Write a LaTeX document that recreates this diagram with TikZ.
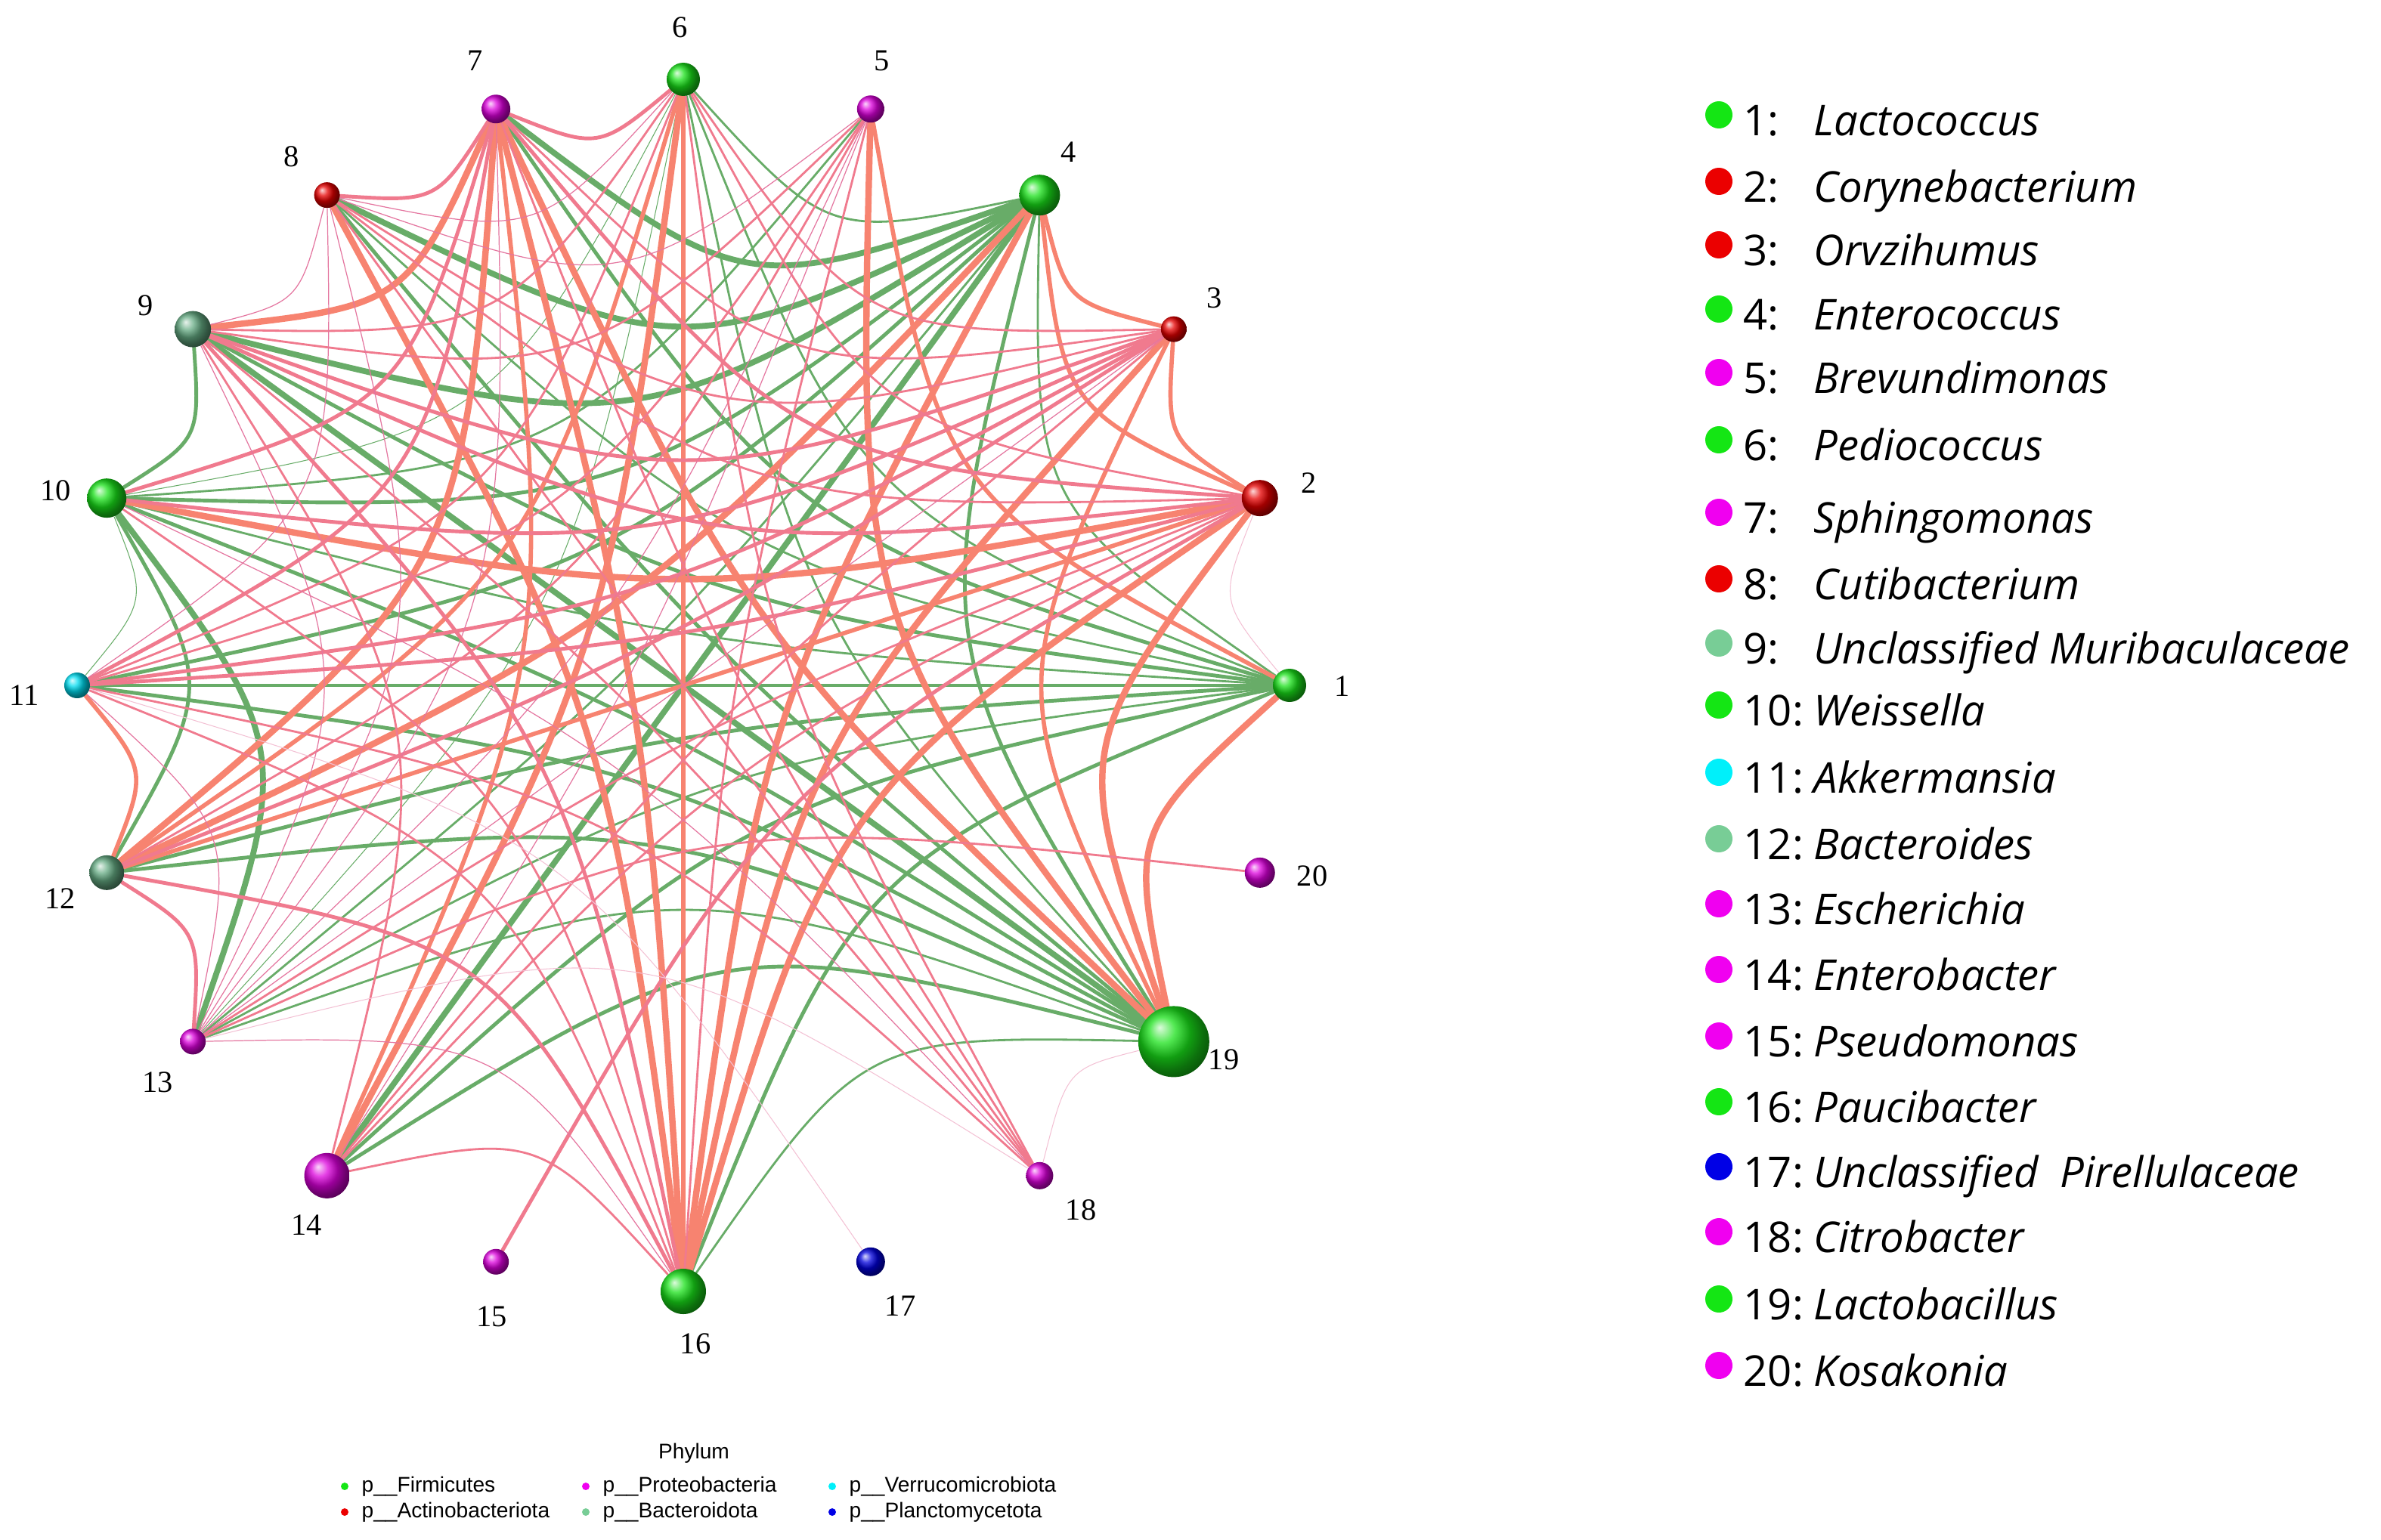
\documentclass[tikz,border=0pt]{standalone}
\usepackage{fontspec}
\setmainfont{Liberation Serif}
\newfontfamily\legfont{Open Sans}
\newfontfamily\phylfont{Liberation Sans}
\pgfdeclarelayer{edges}
\pgfsetlayers{edges,main}

\definecolor{egreen}{RGB}{104,172,104}
\definecolor{esalmon}{RGB}{247,131,112}
\definecolor{epink}{RGB}{240,122,142}
\definecolor{ethin}{RGB}{228,118,160}
\definecolor{bgreen}{RGB}{25,225,25}
\definecolor{bred}{RGB}{230,0,0}
\definecolor{bmag}{RGB}{220,0,220}
\definecolor{bsea}{RGB}{100,170,130}
\definecolor{bcyan}{RGB}{0,220,240}
\definecolor{bblue}{RGB}{0,0,220}
\definecolor{lgreen}{RGB}{20,230,20}
\definecolor{lred}{RGB}{235,0,0}
\definecolor{lmag}{RGB}{240,0,240}
\definecolor{lsea}{RGB}{120,205,150}
\definecolor{lcyan}{RGB}{0,240,250}
\definecolor{lblue}{RGB}{0,0,230}

\tikzset{
  g1/.style={draw=egreen, line width=0.3pt},
  g2/.style={draw=egreen, line width=0.8pt},
  g3/.style={draw=egreen, line width=1.4pt},
  g4/.style={draw=egreen, line width=2.2pt},
  s2/.style={draw=esalmon, line width=0.8pt},
  s3/.style={draw=esalmon, line width=1.6pt},
  s4/.style={draw=esalmon, line width=2.4pt},
  p1/.style={draw=ethin, line width=0.35pt},
  p2/.style={draw=epink, line width=0.8pt},
  p3/.style={draw=epink, line width=1.4pt},
  t1/.style={draw=ethin!45, line width=0.3pt},
  genus/.style={circle, inner sep=0pt, draw=none},
  numlabel/.style={font=\fontsize{11.5}{12}\selectfont, inner sep=0pt},
  legnum/.style={font=\legfont\fontsize{16}{18}\selectfont, anchor=base west, inner sep=0pt},
  legname/.style={font=\legfont\itshape\fontsize{16}{18}\selectfont, anchor=base west, inner sep=0pt},
  phyl/.style={font=\phylfont\fontsize{8}{9}\selectfont, anchor=west, inner sep=0pt},
}
\def\ringR{8.02}

\begin{document}
\begin{tikzpicture}

\useasboundingbox (-9.04,9.07) rectangle (22.46,-11.30);

% genera on the ring
\foreach \i/\d/\c in {1/0.44/bgreen, 2/0.48/bred, 3/0.34/bred, 4/0.54/bgreen,
  5/0.36/bmag, 6/0.44/bgreen, 7/0.38/bmag, 8/0.34/bred, 9/0.48/bsea,
  10/0.52/bgreen, 11/0.34/bcyan, 12/0.46/bsea, 13/0.34/bmag, 14/0.60/bmag,
  15/0.34/bmag, 16/0.60/bgreen, 17/0.38/bblue, 18/0.36/bmag, 19/0.94/bgreen,
  20/0.40/bmag}
  \node[genus, minimum size=\d cm, ball color=\c] (n\i) at ({(\i-1)*18}:\ringR) {};

% number labels
\foreach \i/\x/\y in {1/8.72/-0.01, 2/8.28/2.68, 3/7.03/5.13, 4/5.10/7.06,
  5/2.63/8.27, 6/-0.04/8.71, 7/-2.75/8.27, 8/-5.18/7.00, 9/-7.11/5.03,
  10/-8.30/2.58, 11/-8.72/-0.13, 12/-8.24/-2.82, 13/-6.95/-5.25,
  14/-4.98/-7.14, 15/-2.53/-8.35, 16/0.16/-8.71, 17/2.87/-8.21,
  18/5.26/-6.94, 19/7.15/-4.95, 20/8.32/-2.52}
  \node[numlabel] (l\i) at (\x,\y) {\i};

% correlations
\begin{pgfonlayer}{edges}
\foreach \i/\j/\s in {
  1/4/g2, 1/6/g2, 1/7/g3, 1/8/g2, 1/9/g3, 1/10/g2, 1/11/g3, 1/12/g3,
  1/13/g2, 1/14/g3, 1/16/g3, 1/19/g3,
  4/19/g3, 6/19/g2, 8/19/g3, 9/19/g4, 10/19/g3, 11/19/g3, 12/19/g3,
  13/19/g2, 14/19/g3, 16/19/g2,
  4/7/g4, 4/8/g4, 4/9/g4, 4/10/g3, 4/11/g3, 4/13/g2, 4/14/g4, 4/16/g3, 4/6/g2,
  9/10/g3, 10/11/g1, 10/12/g3, 10/13/g4, 5/10/g2, 6/10/g1, 6/13/g1,
  1/19/s4, 2/19/s4, 3/19/s3, 5/19/s4, 7/19/s4, 1/5/s3,
  2/16/s4, 3/16/s4, 4/16/s4, 6/16/s3, 7/16/s4, 8/16/s4,
  2/10/s4, 2/3/s3, 2/4/s3, 3/4/s3, 2/12/s3,
  6/14/s4, 6/12/s3, 7/12/s4, 4/12/s4, 7/9/s4, 11/12/s3, 7/14/s3,
  6/7/p3, 7/8/p3,
  2/9/p3, 2/11/p3, 2/8/p2, 2/7/p3, 2/6/p2, 2/13/p2, 2/14/p2, 2/15/p3,
  3/9/p3, 3/10/p3, 3/11/p3, 3/12/p3, 3/8/p2, 3/7/p2, 3/6/p2, 3/14/p2, 3/13/p1,
  5/8/p1, 5/9/p2, 5/11/p2, 5/12/p2, 5/13/p1, 5/14/p1, 5/16/p2,
  6/8/p1, 6/9/p2, 6/11/p2, 6/18/p2,
  7/10/p3, 7/11/p3, 7/13/p1, 7/18/p2,
  8/9/p1, 8/18/p2, 8/13/p1, 8/11/p1,
  9/16/p3, 9/14/p2, 9/13/p1, 9/18/p2,
  10/16/p2, 10/18/p1,
  11/16/p2, 11/18/p2, 11/13/p1,
  12/13/p3, 12/16/p3, 13/16/p1, 13/20/p2, 14/16/p2,
  1/2/t1, 18/19/t1, 11/17/t1, 13/18/t1}{
  \pgfmathsetmacro\angA{(\i-1)*18}
  \pgfmathsetmacro\angB{(\j-1)*18}
  \pgfmathsetmacro\pull{1-0.6*abs(sin((\angA-\angB)/2))}
  \pgfmathsetmacro\cx{\pull*\ringR*(cos(\angA)+cos(\angB))/2}
  \pgfmathsetmacro\cy{\pull*\ringR*(sin(\angA)+sin(\angB))/2}
  \draw[\s, line cap=round] (n\i) .. controls (\cx,\cy) .. (n\j);
}
\end{pgfonlayer}

% genus legend
\foreach \i/\g/\c/\y in {1/Lactococcus/lgreen/7.48, 2/Corynebacterium/lred/6.60,
  3/Orvzihumus/lred/5.76, 4/Enterococcus/lgreen/4.91, 5/Brevundimonas/lmag/4.07,
  6/Pediococcus/lgreen/3.18, 7/Sphingomonas/lmag/2.22, 8/Cutibacterium/lred/1.34,
  9/Unclassified Muribaculaceae/lsea/0.49, 10/Weissella/lgreen/-0.33,
  11/Akkermansia/lcyan/-1.22, 12/Bacteroides/lsea/-2.10, 13/Escherichia/lmag/-2.96,
  14/Enterobacter/lmag/-3.83, 15/Pseudomonas/lmag/-4.71, 16/Paucibacter/lgreen/-5.58,
  17/Unclassified\ \ Pirellulaceae/lblue/-6.44, 18/Citrobacter/lmag/-7.30,
  19/Lactobacillus/lgreen/-8.19, 20/Kosakonia/lmag/-9.07}{
  \fill[\c] (13.70,\y+0.07) circle (0.18);
  \node[legnum] (num\i) at (14.02,\y-0.2) {\i:};
  \node[legname] (gen\i) at (14.95,\y-0.2) {\g};
}

% phylum legend
\node[font=\phylfont\fontsize{8}{9}\selectfont, inner sep=0pt] (phylum) at (0.14,-10.16) {Phylum};
\foreach \x/\y/\c/\p in {-4.48/-10.60/lgreen/Firmicutes, -4.48/-10.94/lred/Actinobacteriota,
  -1.29/-10.60/lmag/Proteobacteria, -1.29/-10.94/lsea/Bacteroidota,
  1.97/-10.60/lcyan/Verrucomicrobiota, 1.97/-10.94/lblue/Planctomycetota}{
  \fill[\c] (\x,\y) circle (0.05);
  \node[phyl] at (\x+0.22,\y) {p\_\_\p};
}

\end{tikzpicture}
\end{document}
